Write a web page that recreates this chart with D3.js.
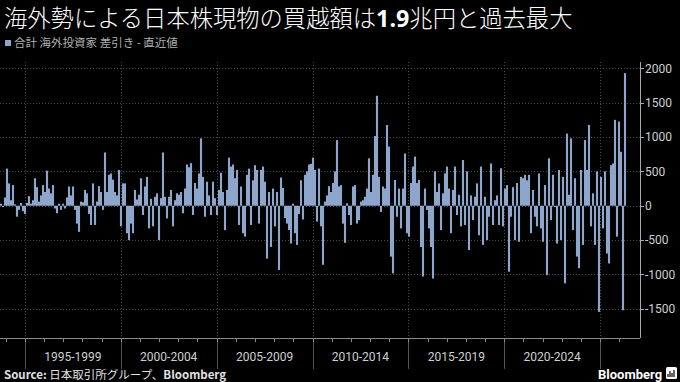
<!DOCTYPE html>
<html><head><meta charset="utf-8">
<script src="https://cdn.jsdelivr.net/npm/d3@7/dist/d3.min.js"></script>
<style>
html,body{margin:0;padding:0;background:#000;}
svg{display:block}
</style></head>
<body>
<svg id="c" width="680" height="382"></svg>
<script>
// Weekly net purchases of Japanese stocks by foreign investors (100m yen)
const net1993_1997 = [30,-20,120,540,325,80,300,20,-160,-60,40,-80,-120,40,140,30,80,400,270,60,150,300,200,510,250,180,300,-40,-110,30,-60];
const net1997_2000 = [30,-40,120,280,150,280,-60,-260,-380,60,50,230,180,-120,-280,325,-280,60,285,200,-60,775,200,450,470,380,200,150,520,-300,325];
const net2000_2003 = [325,-400,-500,-260,-400,230,90,160,400,-135,280,420,-330,100,-300,130,180,-500,110,775,130,-185,130,230,-300,80,180,160,200,-110,250];
const net2003_2006 = [600,560,620,-135,330,250,470,980,420,-160,350,150,-135,350,110,-135,230,480,200,-355,230,700,570,600,400,520,-280,280,-400,-450,450];
const net2006_2010 = [540,-280,370,590,520,-260,520,570,350,-770,200,-600,250,-300,200,-935,410,260,-180,-260,-355,-550,30,-400,-570,-120,370,-200,450,500,600];
const net2010_2013 = [610,700,520,-230,540,-300,-860,60,150,285,200,330,500,955,280,300,-260,-540,35,-135,-280,280,300,-260,-210,60,80,130,250,690,200];
const net2013_2016 = [450,1015,1600,420,-90,280,250,1175,860,-740,-985,375,-160,250,-330,250,760,-400,-450,330,570,715,330,375,-600,-1030,250,-60,-330,-600,-1060];
const net2016_2019 = [500,200,325,-355,180,470,570,250,-400,230,570,-135,160,-300,665,-280,500,-645,150,-210,130,325,-430,570,-570,130,-500,-160,615,-280,80];
const net2019_2023 = [150,-280,545,-300,250,300,-960,-160,270,-500,330,-525,420,400,450,370,450,-400,230,-160,-300,470,-330,-525,300,-1010,690,-210,450,-20,-550];
const net2023_2026 = [520,-500,420,-1130,1050,160,980,-355,400,-740,-910,520,-570,955,520,1175,-300,180,-570,500,-1545,420,-330,500,-695,-840,590,615,1250,-450,1225,785,-1520,1930];

const values = [].concat(net1993_1997, net1997_2000, net2000_2003, net2003_2006, net2006_2010,
                         net2010_2013, net2013_2016, net2016_2019, net2019_2023, net2023_2026);
const startYear = 1993.75, endYear = 2026.3;
const periodBreaks = [1995, 2000, 2005, 2010, 2015, 2020, 2025];
const periodLabels = ["1995-1999", "2000-2004", "2005-2009", "2010-2014", "2015-2019", "2020-2024"];
const yTicks = [-1500, -1000, -500, 0, 500, 1000, 1500, 2000];
const minorYears = d3.range(1994, 2027);

const barColor = "#8ea6cb";
const svg = d3.select("#c");
const n = values.length;
const data = values.map((v, i) => ({ t: startYear + i * (endYear - startYear) / (n - 1), v }));

const x = d3.scaleLinear().domain([startYear, endYear]).range([1, 625]);
const y = d3.scaleLinear().domain([-1500, 2000]).range([308.8, 68.3]);
const plotTop = 62, axisY = 338, axisX = 640;

// horizontal dotted gridlines
svg.append("g").selectAll("line").data(yTicks).join("line")
  .attr("x1", 0).attr("x2", axisX).attr("y1", d => Math.round(y(d)) + 0.5).attr("y2", d => Math.round(y(d)) + 0.5)
  .attr("stroke", "#4a4a4a").attr("stroke-width", 1).attr("stroke-dasharray", "1,2");

// vertical dotted gridlines at period breaks
svg.append("g").selectAll("line").data(periodBreaks).join("line")
  .attr("x1", d => Math.round(x(d)) + 0.5).attr("x2", d => Math.round(x(d)) + 0.5)
  .attr("y1", plotTop).attr("y2", axisY)
  .attr("stroke", "#4a4a4a").attr("stroke-dasharray", "1,2");
svg.append("g").selectAll("line").data(periodBreaks).join("line")
  .attr("x1", d => Math.round(x(d)) + 0.5).attr("x2", d => Math.round(x(d)) + 0.5)
  .attr("y1", axisY).attr("y2", 369)
  .attr("stroke", "#555");

// bars
const step = x(data[1].t) - x(data[0].t);
const bw = step + 0.1;
svg.append("g").selectAll("rect").data(data).join("rect")
  .attr("x", d => x(d.t) - bw / 2)
  .attr("width", bw)
  .attr("y", d => y(Math.max(0, d.v)))
  .attr("height", d => Math.abs(y(d.v) - y(0)))
  .attr("fill", barColor);

// bottom axis
svg.append("line").attr("x1", 0).attr("x2", axisX).attr("y1", axisY + 0.5).attr("y2", axisY + 0.5)
  .attr("stroke", "#888");
svg.append("g").selectAll("line").data(minorYears).join("line")
  .attr("x1", d => Math.round(x(d)) + 0.5).attr("x2", d => Math.round(x(d)) + 0.5)
  .attr("y1", axisY).attr("y2", axisY + 4).attr("stroke", "#888");
svg.append("g").selectAll("text").data(periodLabels).join("text")
  .attr("x", (d, i) => (x(periodBreaks[i]) + x(periodBreaks[i + 1])) / 2)
  .attr("y", 361).attr("text-anchor", "middle")
  .attr("font-family", "Roboto, 'Noto Sans', sans-serif").attr("font-size", 12)
  .attr("fill", "#cfcfcf").text(d => d);

// right axis
svg.append("line").attr("x1", axisX + 0.5).attr("x2", axisX + 0.5).attr("y1", plotTop).attr("y2", axisY)
  .attr("stroke", "#aaa");
svg.append("g").selectAll("line").data(yTicks).join("line")
  .attr("x1", axisX).attr("x2", axisX + 4)
  .attr("y1", d => Math.round(y(d)) + 0.5).attr("y2", d => Math.round(y(d)) + 0.5)
  .attr("stroke", "#aaa");
svg.append("g").selectAll("text").data(yTicks).join("text")
  .attr("x", axisX + 5).attr("y", d => y(d)).attr("dy", "0.35em")
  .attr("font-family", "Roboto, 'Noto Sans', sans-serif").attr("font-size", 12)
  .attr("fill", "#cfcfcf").text(d => d);

// title
const title = svg.append("text").attr("x", 4).attr("y", 27)
  .attr("font-family", "'Noto Sans CJK JP', sans-serif").attr("font-size", 23.3).attr("font-weight", 300).attr("fill", "#fff");
title.append("tspan").text("海外勢による日本株現物の買越額は");
title.append("tspan").attr("font-weight", "bold").attr("font-family", "'Open Sans', 'Noto Sans', sans-serif").text("1.9");
title.append("tspan").text("兆円と過去最大");

// legend
svg.append("rect").attr("x", 5).attr("y", 40).attr("width", 6).attr("height", 6).attr("fill", barColor);
svg.append("text").attr("x", 14).attr("y", 47)
  .attr("font-family", "'Noto Sans CJK JP', sans-serif").attr("font-size", 11.5).attr("fill", "#b0b0b0")
  .text("合計 海外投資家 差引き - 直近値");

// source
const src = svg.append("text").attr("x", 4).attr("y", 379)
  .attr("font-family", "'Noto Sans CJK JP', sans-serif").attr("font-size", 11.5).attr("fill", "#e0e0e0");
src.append("tspan").attr("font-weight", "bold").text("Source: ");
src.append("tspan").text("日本取引所グループ、");
src.append("tspan").attr("font-weight", "bold").text("Bloomberg");

// Bloomberg logo
svg.append("text").attr("x", 598).attr("y", 379)
  .attr("font-family", "Roboto, sans-serif").attr("font-size", 13).attr("font-weight", "bold")
  .attr("fill", "#fff").text("Bloomberg");
const logo = svg.append("g").attr("transform", "translate(666,367)");
logo.append("rect").attr("width", 11).attr("height", 12).attr("rx", 1.5).attr("fill", "#fff");
logo.append("path").attr("d", "M2,10V7M4,10V4M6,10V6M8,10V3").attr("stroke", "#000").attr("stroke-width", 1.2);
</script>
</body></html>
